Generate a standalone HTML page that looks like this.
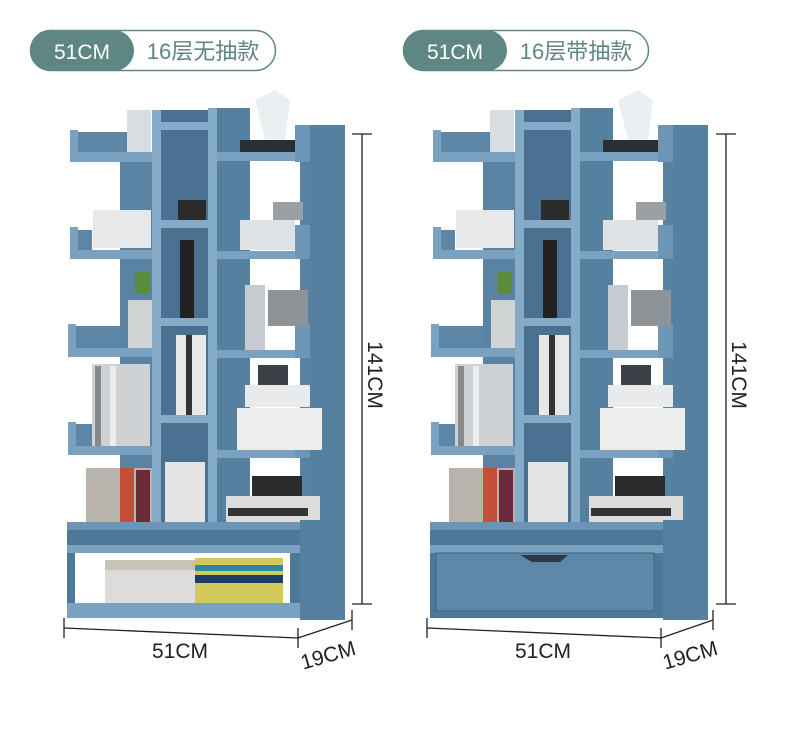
<!DOCTYPE html>
<html><head><meta charset="utf-8"><style>
html,body{margin:0;padding:0;background:#fff;}
svg{display:block}
text{font-family:"Liberation Sans","Noto Sans CJK SC",sans-serif}
</style></head><body>
<svg width="790" height="731" viewBox="0 0 790 731" xmlns="http://www.w3.org/2000/svg">
<defs>
<g id="shelf">
  <rect x="120" y="160" width="32" height="365" fill="#5a83a3"/>
  <rect x="160" y="110" width="48" height="435" fill="#4a7192"/>
  <rect x="217" y="108" width="33" height="440" fill="#5580a0"/>
  <rect x="250" y="160" width="60" height="365" fill="#ffffff"/>
  <rect x="300" y="125" width="45" height="485" fill="#5882a2"/>
  <rect x="310" y="125" width="35" height="485" fill="#5680a0"/>
  <rect x="152" y="110" width="9" height="438" fill="#86abc8"/>
  <rect x="208" y="108" width="9" height="440" fill="#86abc8"/>
  <g fill="#7aa1bf">
    <rect x="70" y="130" width="8" height="32"/><rect x="78" y="132" width="52" height="20" fill="#5d86a6"/>
    <rect x="70" y="152" width="82" height="10"/>
    <rect x="70" y="227" width="8" height="32"/><rect x="78" y="230" width="14" height="20" fill="#5d86a6"/>
    <rect x="70" y="250" width="82" height="9"/>
    <rect x="68" y="324" width="8" height="32"/><rect x="76" y="326" width="44" height="22" fill="#5d86a6"/>
    <rect x="68" y="348" width="84" height="9"/>
    <rect x="68" y="422" width="8" height="32"/><rect x="76" y="424" width="16" height="22" fill="#5d86a6"/>
    <rect x="68" y="446" width="84" height="9"/>
  </g>
  <g fill="#86abc8">
    <rect x="160" y="122" width="48" height="8"/>
    <rect x="160" y="220" width="48" height="8"/>
    <rect x="160" y="318" width="48" height="8"/>
    <rect x="160" y="415" width="48" height="8"/>
  </g>
  <g fill="#7aa1bf">
    <rect x="217" y="152" width="93" height="9"/><rect x="295" y="125" width="15" height="37" fill="#6d95b5"/>
    <rect x="217" y="251" width="93" height="8"/><rect x="295" y="225" width="15" height="34" fill="#6d95b5"/>
    <rect x="217" y="350" width="93" height="8"/><rect x="295" y="324" width="15" height="34" fill="#6d95b5"/>
    <rect x="217" y="450" width="93" height="8"/><rect x="295" y="424" width="15" height="34" fill="#6d95b5"/>
  </g>
  <rect x="127" y="110" width="24" height="42" fill="#d8dde2"/>
  <rect x="240" y="140" width="55" height="12" fill="#2a2f33"/>
  <path d="M255 100 L275 90 L290 100 L285 140 L265 140Z" fill="#eceff1"/>
  <rect x="178" y="200" width="28" height="20" fill="#2b2b2b"/>
  <rect x="93" y="210" width="58" height="38" fill="#e6e8ea"/>
  <rect x="240" y="220" width="55" height="30" fill="#dfe2e4"/>
  <rect x="273" y="202" width="30" height="18" fill="#9aa0a4"/>
  <rect x="180" y="240" width="14" height="78" fill="#222"/>
  <rect x="128" y="300" width="24" height="48" fill="#cfd3d4"/>
  <rect x="135" y="272" width="14" height="22" fill="#5b8c3c"/>
  <rect x="245" y="285" width="20" height="65" fill="#c5cbd0"/>
  <rect x="268" y="290" width="40" height="36" fill="#8e9398"/>
  <rect x="176" y="335" width="30" height="80" fill="#e8e8e8"/>
  <rect x="186" y="335" width="6" height="80" fill="#333"/>
  <rect x="92" y="364" width="58" height="82" fill="#cfd2d5"/>
  <rect x="95" y="366" width="6" height="80" fill="#888"/>
  <rect x="110" y="366" width="6" height="80" fill="#eee"/>
  <rect x="245" y="385" width="65" height="22" fill="#e9eaeb"/>
  <rect x="258" y="365" width="30" height="20" fill="#3a4046"/>
  <rect x="237" y="408" width="85" height="42" fill="#eceded"/>
  <rect x="86" y="468" width="66" height="78" fill="#b9b3ad"/>
  <rect x="120" y="468" width="14" height="78" fill="#c44f36"/>
  <rect x="136" y="470" width="14" height="76" fill="#6b2a3a"/>
  <rect x="165" y="462" width="40" height="84" fill="#e4e4e4"/>
  <rect x="252" y="476" width="50" height="20" fill="#2b2b2b"/>
  <rect x="226" y="496" width="94" height="50" fill="#dcdcdc"/>
  <rect x="228" y="508" width="80" height="8" fill="#333"/>
</g>
</defs>

<rect x="30.5" y="30.5" width="245" height="40" rx="20" fill="#fff" stroke="#5e8783" stroke-width="1.5"/>
<rect x="30" y="30" width="104" height="41" rx="20.5" fill="#5e8783"/>
<text x="82" y="59" font-size="21" fill="#fff" text-anchor="middle">51CM</text>
<text x="203" y="59" font-size="22" fill="#5e8783" text-anchor="middle">16层无抽款</text>

<rect x="403.5" y="30.5" width="245" height="40" rx="20" fill="#fff" stroke="#5e8783" stroke-width="1.5"/>
<rect x="403" y="30" width="104" height="41" rx="20.5" fill="#5e8783"/>
<text x="455" y="59" font-size="21" fill="#fff" text-anchor="middle">51CM</text>
<text x="576" y="59" font-size="22" fill="#5e8783" text-anchor="middle">16层带抽款</text>

<use href="#shelf"/>
<rect x="67" y="522" width="233" height="96" fill="#4f7797"/>
<rect x="67" y="522" width="233" height="8" fill="#6c94b4"/>
<rect x="67" y="545" width="233" height="8" fill="#7aa1bf"/>
<rect x="75" y="553" width="215" height="50" fill="#ffffff"/>
<rect x="105" y="560" width="90" height="46" fill="#dcdcdc"/>
<rect x="105" y="560" width="90" height="10" fill="#c8c4b8"/>
<rect x="195" y="558" width="88" height="50" fill="#d3c95a"/>
<rect x="195" y="575" width="88" height="8" fill="#1c3d6a"/>
<rect x="195" y="565" width="88" height="6" fill="#2c8a9a"/>
<rect x="67" y="603" width="233" height="15" fill="#7aa1bf"/>
<rect x="300" y="520" width="45" height="100" fill="#55809f"/>

<g transform="translate(363,0)"><use href="#shelf"/></g>
<rect x="430" y="522" width="233" height="96" fill="#4f7797"/>
<rect x="430" y="522" width="233" height="8" fill="#6c94b4"/>
<rect x="430" y="545" width="233" height="8" fill="#7aa1bf"/>
<rect x="436" y="553" width="218" height="58" fill="#5e87a8" stroke="#3f6482" stroke-width="1"/>
<path d="M520 555 L532 562 L560 562 L568 555Z" fill="#2a3a48"/>
<rect x="663" y="520" width="45" height="100" fill="#55809f"/>

<g stroke="#222" stroke-width="1.3" fill="none">
  <line x1="362" y1="134" x2="362" y2="604"/>
  <line x1="352" y1="134" x2="372" y2="134"/>
  <line x1="352" y1="604" x2="372" y2="604"/>
  <line x1="64" y1="628" x2="298" y2="638"/>
  <line x1="64" y1="618" x2="64" y2="638"/>
  <line x1="298" y1="628" x2="298" y2="648"/>
  <line x1="298" y1="638" x2="352" y2="620"/>
  <line x1="352" y1="610" x2="352" y2="630"/>
  <line x1="726" y1="134" x2="726" y2="604"/>
  <line x1="716" y1="134" x2="736" y2="134"/>
  <line x1="716" y1="604" x2="736" y2="604"/>
  <line x1="427" y1="628" x2="661" y2="638"/>
  <line x1="427" y1="618" x2="427" y2="638"/>
  <line x1="661" y1="628" x2="661" y2="648"/>
  <line x1="661" y1="638" x2="713" y2="620"/>
  <line x1="713" y1="610" x2="713" y2="630"/>
</g>
<g font-size="21" fill="#222">
  <text x="180" y="658" text-anchor="middle">51CM</text>
  <text transform="translate(330,662) rotate(-16)" text-anchor="middle">19CM</text>
  <text transform="translate(368,375) rotate(90)" text-anchor="middle">141CM</text>
  <text x="543" y="658" text-anchor="middle">51CM</text>
  <text transform="translate(692,662) rotate(-16)" text-anchor="middle">19CM</text>
  <text transform="translate(732,375) rotate(90)" text-anchor="middle">141CM</text>
</g>
</svg>
</body></html>
